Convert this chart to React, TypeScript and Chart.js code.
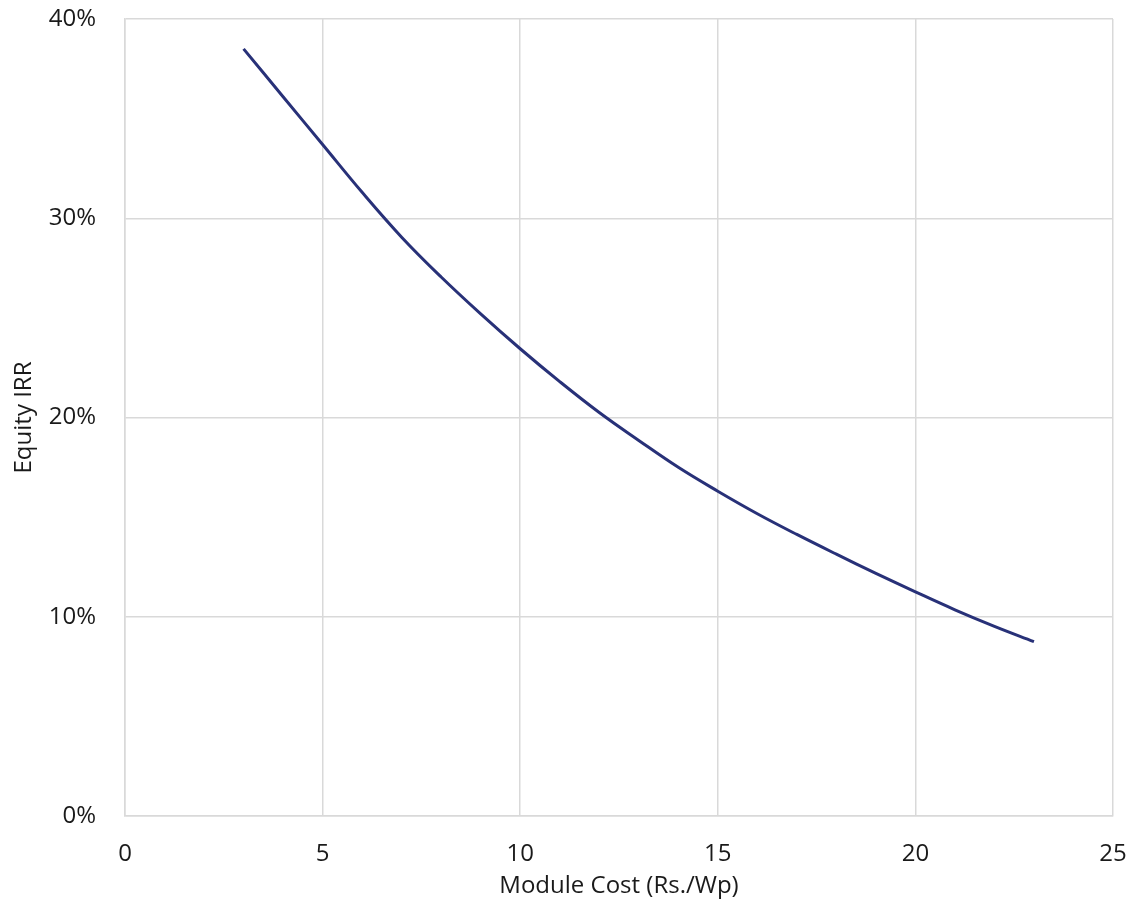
import React, { useEffect, useRef } from "react";
import { Chart, registerables } from "chart.js";

Chart.register(...registerables);

const moduleCost = [3, 4, 5, 6, 7, 8, 9, 10, 11, 12, 13, 14, 15, 16, 17, 18, 19, 20, 21, 22, 23];
const equityIRR = [38.5, 36.1, 33.7, 31.3, 29.05, 27.05, 25.2, 23.45, 21.8, 20.25, 18.85, 17.5, 16.3, 15.17, 14.13, 13.14, 12.18, 11.25, 10.35, 9.52, 8.75];
const xTickValues = [0, 5, 10, 15, 20, 25];
const yTickValues = [0, 10, 20, 30, 40];

const FONT = "'Open Sans', sans-serif";
const GRID = "#d9d9d9";
const TEXT = "#1a1a1a";

export default function App() {
  const ref = useRef<HTMLCanvasElement | null>(null);

  useEffect(() => {
    document.body.style.margin = "0";
    const canvas = ref.current;
    if (!canvas) return;
    const chart = new Chart(canvas, {
      type: "line",
      data: {
        datasets: [
          {
            label: "Equity IRR",
            data: moduleCost.map((x, i) => ({ x, y: equityIRR[i] })),
            borderColor: "#283178",
            borderWidth: 3,
            pointRadius: 0,
            tension: 0.4,
            fill: false,
          },
        ],
      },
      options: {
        animation: false,
        responsive: false,
        maintainAspectRatio: false,
        layout: { padding: { top: 19, right: 21, left: 0, bottom: 0 } },
        plugins: { legend: { display: false }, tooltip: { enabled: false } },
        scales: {
          x: {
            type: "linear",
            min: 0,
            max: 25,
            afterBuildTicks: (axis: any) => {
              axis.ticks = xTickValues.map((v) => ({ value: v }));
            },
            afterFit: (axis: any) => {
              axis.height = 102;
              axis.paddingLeft = 0;
              axis.paddingRight = 0;
            },
            grid: { color: GRID, lineWidth: 1.5, drawTicks: false },
            border: { color: GRID, width: 1.5 },
            ticks: {
              padding: 24,
              color: TEXT,
              font: { family: FONT, size: 24 },
            },
            title: {
              display: true,
              text: "Module Cost (Rs./Wp)",
              color: TEXT,
              font: { family: FONT, size: 24 },
              padding: { top: 17, bottom: 17 },
            },
          },
          y: {
            type: "linear",
            min: 0,
            max: 40,
            afterBuildTicks: (axis: any) => {
              axis.ticks = yTickValues.map((v) => ({ value: v }));
            },
            afterFit: (axis: any) => {
              axis.width = 125;
              axis.paddingTop = 0;
              axis.paddingBottom = 0;
            },
            grid: { color: GRID, lineWidth: 1.5, drawTicks: false },
            border: { color: GRID, width: 1.5 },
            ticks: {
              padding: 29,
              color: TEXT,
              font: { family: FONT, size: 24 },
              callback: (v: any) => `${v}%`,
            },
            title: {
              display: true,
              text: "Equity IRR",
              color: TEXT,
              font: { family: FONT, size: 24 },
              padding: { top: 10, bottom: 10 },
            },
          },
        },
      },
    });
    return () => chart.destroy();
  }, []);

  return (
    <div style={{ width: 1134, height: 918, background: "#fff" }}>
      <canvas ref={ref} width={1134} height={918} style={{ display: "block", width: 1134, height: 918 }} />
    </div>
  );
}
